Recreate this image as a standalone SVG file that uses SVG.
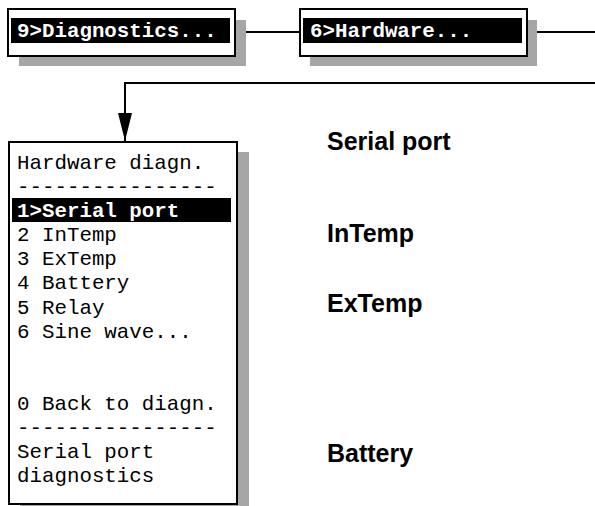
<svg xmlns="http://www.w3.org/2000/svg" width="595" height="506" viewBox="0 0 595 506">
<defs>
<style>
.box{fill:#fff;stroke:#000;stroke-width:2}
.shadow{fill:#a6a6a6}
.hl{fill:#000}
.mono{font-family:"Liberation Mono","Courier New",monospace;font-size:20.8px;fill:#000}
.monob{font-family:"Liberation Mono","Courier New",monospace;font-size:20.8px;font-weight:bold;fill:#fff}
.lbl{font-family:"Liberation Sans",Arial,sans-serif;font-size:25px;font-weight:bold;fill:#000}
.conn{fill:none;stroke:#000;stroke-width:2}
</style>
<marker id="arr" markerUnits="userSpaceOnUse" markerWidth="28" markerHeight="14" refX="28" refY="7" viewBox="0 0 28 14" orient="auto">
<path d="M0,0 L28,7 L0,14 Z" fill="#000"/>
</marker>
</defs>
<g id="connectors">
<line class="conn" x1="235" y1="32" x2="299" y2="32"/>
<line class="conn" x1="527" y1="32" x2="595" y2="32"/>
<path class="conn" d="M595,83 L125,83 L125,141" marker-end="url(#arr)"/>
</g>
<g id="node-diagnostics">
<rect class="shadow" x="19" y="20" width="227" height="46"/>
<rect class="box" x="8" y="9" width="227" height="47"/>
<rect class="hl" x="11" y="18" width="219" height="25"/>
<text class="monob" x="17" y="37">9&gt;Diagnostics...</text>
</g>
<g id="node-hardware">
<rect class="shadow" x="310" y="20" width="227" height="46"/>
<rect class="box" x="300" y="9" width="227" height="47"/>
<rect class="hl" x="303" y="18" width="219" height="25"/>
<text class="monob" x="310" y="37">6&gt;Hardware...</text>
</g>
<g id="node-menu">
<rect class="shadow" x="20" y="152" width="229" height="360"/>
<rect class="box" x="9" y="142" width="228" height="362"/>
<rect class="hl" x="12" y="198" width="219" height="24"/>
<text class="mono" x="17" y="169">Hardware diagn.</text>
<text class="mono" x="17" y="193">----------------</text>
<text class="monob" x="17" y="217">1&gt;Serial port</text>
<text class="mono" x="17" y="241">2 InTemp</text>
<text class="mono" x="17" y="265">3 ExTemp</text>
<text class="mono" x="17" y="289">4 Battery</text>
<text class="mono" x="17" y="314">5 Relay</text>
<text class="mono" x="17" y="338">6 Sine wave...</text>
<text class="mono" x="17" y="410">0 Back to diagn.</text>
<text class="mono" x="17" y="434">----------------</text>
<text class="mono" x="17" y="458">Serial port</text>
<text class="mono" x="17" y="482">diagnostics</text>
</g>
<g id="labels">
<text class="lbl" x="327" y="150">Serial port</text>
<text class="lbl" x="327" y="242">InTemp</text>
<text class="lbl" x="327" y="312">ExTemp</text>
<text class="lbl" x="327" y="462">Battery</text>
</g>
</svg>
